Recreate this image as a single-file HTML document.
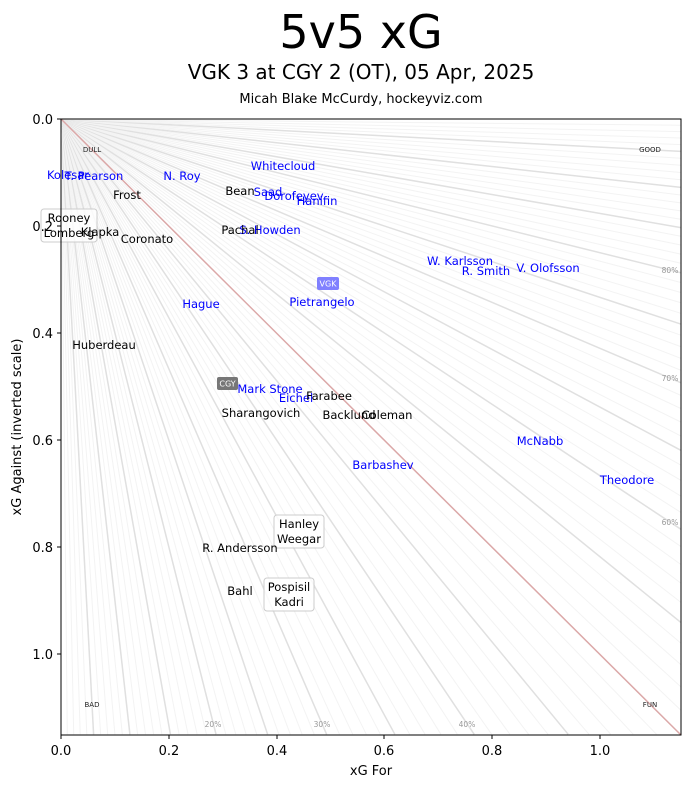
<!DOCTYPE html>
<html><head><meta charset="utf-8"><style>
html,body{margin:0;padding:0;background:#fff;overflow:hidden;width:691px;height:788px;}
svg{display:block;}
svg text{font-family:"DejaVu Sans","Liberation Sans",sans-serif;}
</style></head><body>
<svg id="s" width="691" height="788" xmlns="http://www.w3.org/2000/svg">
<defs><clipPath id="c"><rect x="61" y="119" width="620" height="616"/></clipPath></defs>
<rect width="691" height="788" fill="#fff"/>
<g id="fan" clip-path="url(#c)"></g>
<line x1="61" y1="119" x2="681" y2="735" stroke="#dba8a8" stroke-width="1.5" clip-path="url(#c)"/>
<g font-size="7" fill="#222" text-anchor="middle">
<text x="92" y="152">DULL</text><text x="650" y="152">GOOD</text>
<text x="92" y="707">BAD</text><text x="650" y="707">FUN</text>
</g>
<g font-size="7.5" fill="#999" text-anchor="middle">
<text x="213" y="727">20%</text><text x="322" y="727">30%</text><text x="467" y="727">40%</text>
<text x="670" y="525">60%</text><text x="670" y="381">70%</text><text x="670" y="273">80%</text>
</g>
<rect x="41" y="209" width="56" height="33" rx="3" fill="#fff" fill-opacity="0.8" stroke="#ccc"/>
<rect x="274" y="515" width="50" height="33" rx="3" fill="#fff" fill-opacity="0.8" stroke="#ccc"/>
<rect x="264" y="578" width="50" height="33" rx="3" fill="#fff" fill-opacity="0.8" stroke="#ccc"/>
<rect x="317" y="277" width="22" height="13" rx="2" fill="#8080ff"/>
<rect x="217" y="377" width="21" height="13" rx="2" fill="#777"/>
<g font-size="8" fill="#fff" text-anchor="middle">
<text x="328" y="286.5">VGK</text><text x="227.5" y="386.5">CGY</text>
</g>
<g font-size="11.5" text-anchor="middle" fill="#0000ff">
<text x="68" y="179">Kolesar</text><text x="94" y="180">T. Pearson</text><text x="182" y="180">N. Roy</text>
<text x="283" y="170">Whitecloud</text><text x="268" y="196">Saad</text><text x="294" y="200">Dorofeyev</text>
<text x="317" y="205">Hanifin</text><text x="270" y="234">S. Howden</text>
<text x="460" y="265">W. Karlsson</text><text x="486" y="275">R. Smith</text><text x="548" y="272">V. Olofsson</text>
<text x="322" y="306">Pietrangelo</text><text x="201" y="308">Hague</text><text x="270" y="393">Mark Stone</text>
<text x="296" y="402">Eichel</text><text x="540" y="445">McNabb</text><text x="383" y="469">Barbashev</text>
<text x="627" y="484">Theodore</text>
</g>
<g font-size="11.5" text-anchor="middle" fill="#000">
<text x="240" y="195">Bean</text><text x="127" y="199">Frost</text><text x="69" y="222">Rooney</text>
<text x="69" y="237">Lomberg</text><text x="100" y="236">Klapka</text><text x="147" y="243">Coronato</text>
<text x="240" y="234">Pachal</text><text x="104" y="349">Huberdeau</text><text x="329" y="400">Farabee</text>
<text x="261" y="417">Sharangovich</text><text x="349" y="419">Backlund</text><text x="387" y="419">Coleman</text>
<text x="299" y="528">Hanley</text><text x="299" y="543">Weegar</text><text x="240" y="552">R. Andersson</text>
<text x="240" y="595">Bahl</text><text x="289" y="591">Pospisil</text><text x="289" y="606">Kadri</text>
</g>
<rect x="61" y="119" width="620" height="616" fill="none" stroke="#000" stroke-width="1"/>
<g stroke="#000" stroke-width="1">
<line x1="61" y1="735" x2="61" y2="739"/><line x1="169" y1="735" x2="169" y2="739"/><line x1="277" y1="735" x2="277" y2="739"/><line x1="384" y1="735" x2="384" y2="739"/><line x1="492" y1="735" x2="492" y2="739"/><line x1="600" y1="735" x2="600" y2="739"/>
<line x1="57" y1="119" x2="61" y2="119"/><line x1="57" y1="226" x2="61" y2="226"/><line x1="57" y1="333" x2="61" y2="333"/><line x1="57" y1="440" x2="61" y2="440"/><line x1="57" y1="547" x2="61" y2="547"/><line x1="57" y1="654" x2="61" y2="654"/>
</g>
<g font-size="13" fill="#000" text-anchor="middle">
<text x="61" y="755">0.0</text><text x="169" y="755">0.2</text><text x="277" y="755">0.4</text><text x="384" y="755">0.6</text><text x="492" y="755">0.8</text><text x="600" y="755">1.0</text>
<text x="371" y="775">xG For</text>
</g>
<g font-size="13" fill="#000" text-anchor="end">
<text x="53" y="124">0.0</text><text x="53" y="231">0.2</text><text x="53" y="338">0.4</text><text x="53" y="445">0.6</text><text x="53" y="552">0.8</text><text x="53" y="659">1.0</text>
</g>
<text transform="translate(21,427) rotate(-90)" font-size="13" text-anchor="middle">xG Against (inverted scale)</text>
<text x="361" y="48" font-size="46" text-anchor="middle">5v5 xG</text>
<text x="361" y="79" font-size="20" text-anchor="middle">VGK 3 at CGY 2 (OT), 05 Apr, 2025</text>
<text x="361" y="103" font-size="13" text-anchor="middle">Micah Blake McCurdy, hockeyviz.com</text>
</svg>
<script>
var g=document.getElementById('fan'),h='';
for(var i=1;i<100;i++){if(i==50)continue;var s=i/100;var t=Math.min(1.15/s,1.15/(1-s));
var x=61+539*s*t,y=119+535*(1-s)*t;
var dark=(i%5==0);h+='<line x1="61" y1="119" x2="'+x.toFixed(1)+'" y2="'+y.toFixed(1)+'" stroke="'+(dark?'#e0e0e0':'#f3f3f3')+'" stroke-width="'+(dark?1.5:1)+'"/>';}
g.innerHTML=h;
</script>
</body></html>
